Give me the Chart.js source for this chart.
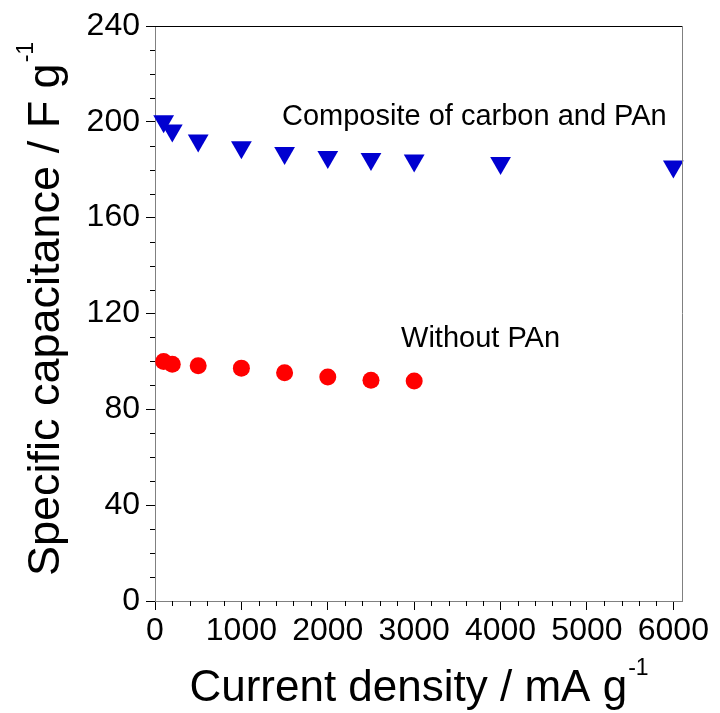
<!DOCTYPE html>
<html>
<head>
<meta charset="utf-8">
<script src="https://cdn.jsdelivr.net/npm/chart.js@4.4.1/dist/chart.umd.min.js"></script>
<style>
  html, body { margin: 0; padding: 0; background: #fff; }
  #wrap { width: 720px; height: 713px; }
</style>
</head>
<body>
<div id="wrap"><canvas id="myChart"></canvas></div>
<script>
// current density (mA/g) and specific capacitance (F/g)
const currentComposite = [100, 200, 500, 1000, 1500, 2000, 2500, 3000, 4000, 6000];
const capComposite     = [200.2, 196.4, 192.2, 189.4, 187.0, 185.3, 184.5, 183.9, 182.8, 181.4];

const currentPlain = [100, 200, 500, 1000, 1500, 2000, 2500, 3000];
const capPlain     = [100.0, 98.8, 98.2, 97.2, 95.3, 93.5, 92.1, 91.8];

const xTicks = [0, 1000, 2000, 3000, 4000, 5000, 6000];
const yTicks = [0, 40, 80, 120, 160, 200, 240];

const labels = ["Composite of carbon and PAn", "Without PAn"];
const labelX = [1470, 2848];
const labelY = [198.5, 105.9];

const FONT = '"Liberation Sans", Arial, sans-serif';

function toPoints(xs, ys) {
  return xs.map((x, i) => ({ x: x, y: ys[i] }));
}

// frame, minor ticks, text labels and axis titles with superscripts
const extras = {
  id: 'extras',
  afterDraw(chart) {
    const ctx = chart.ctx;
    const a = chart.chartArea;
    const sx = chart.scales.x, sy = chart.scales.y;
    ctx.save();

    ctx.lineWidth = 1;
    ctx.strokeStyle = '#000';
    ctx.beginPath();
    ctx.moveTo(a.left, Math.round(a.top) + 0.5);
    ctx.lineTo(a.right + 1, Math.round(a.top) + 0.5);
    ctx.stroke();
    ctx.strokeStyle = '#808080';
    ctx.beginPath();
    ctx.moveTo(Math.round(a.right) + 0.5, a.top);
    ctx.lineTo(Math.round(a.right) + 0.5, a.bottom);
    ctx.stroke();

    // minor ticks
    ctx.strokeStyle = '#000';
    ctx.beginPath();
    for (let v = 200; v < sx.max; v += 200) {
      if (v % 1000 === 0) continue;
      const px = Math.round(sx.getPixelForValue(v)) + 0.5;
      ctx.moveTo(px, a.bottom);
      ctx.lineTo(px, a.bottom + 5);
    }
    for (let v = 10; v < sy.max; v += 10) {
      if (v % 40 === 0) continue;
      const py = Math.round(sy.getPixelForValue(v)) + 0.5;
      ctx.moveTo(a.left, py);
      ctx.lineTo(a.left - 5, py);
    }
    ctx.stroke();

    // text labels in the plot
    ctx.fillStyle = '#000';
    ctx.font = '29px ' + FONT;
    ctx.textAlign = 'left';
    ctx.textBaseline = 'alphabetic';
    labels.forEach((t, i) => {
      ctx.fillText(t, sx.getPixelForValue(labelX[i]), sy.getPixelForValue(labelY[i]));
    });

    // axis titles
    function title(main, sup, size, cx, base) {
      const mainFont = size + 'px ' + FONT, supFont = '23px ' + FONT;
      ctx.font = mainFont;
      const w1 = ctx.measureText(main).width;
      ctx.font = supFont;
      const w2 = ctx.measureText(sup).width;
      const x0 = cx - (w1 + w2) / 2;
      ctx.font = mainFont;
      ctx.fillText(main, x0, base);
      ctx.font = supFont;
      ctx.fillText(sup, x0 + w1 + 1, base - 26);
    }
    title('Current density / mA g', '-1', 44, (a.left + a.right) / 2, 701);

    ctx.translate(59, (a.top + a.bottom) / 2 - 4);
    ctx.rotate(-Math.PI / 2);
    title('Specific capacitance / F g', '-1', 45, 0, 0);

    ctx.restore();
  }
};

var ctx = document.getElementById('myChart').getContext('2d');
var myChart = new Chart(ctx, {
  type: 'scatter',
  data: {
    datasets: [
      {
        label: 'Composite of carbon and PAn',
        data: toPoints(currentComposite, capComposite),
        pointStyle: 'triangle',
        rotation: 180,
        pointRadius: 12,
        backgroundColor: '#0000d0',
        borderColor: '#0000d0',
        borderWidth: 0,
        clip: false
      },
      {
        label: 'Without PAn',
        data: toPoints(currentPlain, capPlain),
        pointStyle: 'circle',
        pointRadius: 8.5,
        backgroundColor: '#ff0000',
        borderColor: '#ff0000',
        borderWidth: 0,
        clip: false
      }
    ]
  },
  options: {
    responsive: true,
    maintainAspectRatio: false,
    animation: false,
    layout: { padding: { top: 26, right: 38, left: 0, bottom: 0 } },
    plugins: {
      legend: { display: false },
      tooltip: { enabled: false }
    },
    scales: {
      x: {
        type: 'linear',
        min: 0,
        max: 6100,
        afterBuildTicks: (s) => { s.ticks = xTicks.map(v => ({ value: v })); },
        afterFit: (s) => { s.height = 112; },
        ticks: {
          color: '#000',
          font: { family: FONT, size: 32 },
          padding: 2,
          maxRotation: 0,
          autoSkip: false,
          callback: (v) => String(v)
        },
        grid: { drawOnChartArea: false, tickLength: 9, tickColor: '#000' },
        border: { display: true, color: '#808080', width: 1 }
      },
      y: {
        type: 'linear',
        min: 0,
        max: 240,
        afterBuildTicks: (s) => { s.ticks = yTicks.map(v => ({ value: v })); },
        afterFit: (s) => { s.width = 155; },
        ticks: {
          color: '#000',
          font: { family: FONT, size: 32 },
          padding: 6,
          autoSkip: false,
          callback: (v) => String(v)
        },
        grid: { drawOnChartArea: false, tickLength: 9, tickColor: '#000' },
        border: { display: true, color: '#808080', width: 1 }
      }
    }
  },
  plugins: [extras]
});
</script>
</body>
</html>
